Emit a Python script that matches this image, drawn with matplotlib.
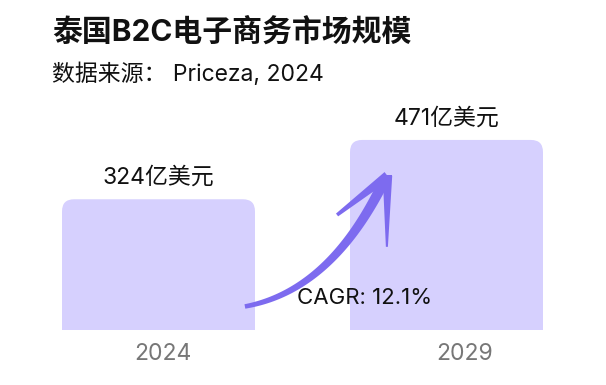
import numpy as np
import matplotlib.pyplot as plt
from matplotlib.patches import FancyBboxPatch

plt.rcParams['font.family'] = ['Inter', 'Noto Sans CJK SC', 'DejaVu Sans']

years = ['2024', '2029']
values = [324, 471]
value_labels = ['324亿美元', '471亿美元']
title = '泰国B2C电子商务市场规模'
subtitle = '数据来源： Priceza, 2024'
cagr_text = 'CAGR: 12.1%'

bar_color = '#D6D0FE'
arrow_color = '#7D6BEF'

fig = plt.figure(figsize=(6.06, 3.85), dpi=100)
ax = fig.add_axes([14.5 / 606, 55 / 385, 576 / 606, 230 / 385])
ax.set_xlim(-0.5, 1.5)
ax.set_ylim(0, 570)

x = np.arange(len(years))
rects = ax.bar(x, values, width=0.67, color=bar_color)

# swap plain bars for ones with rounded top corners
px_x = 288.0          # pixels per x unit
px_y = 230.0 / 570    # pixels per y unit
r = 12 / px_x
for rect in rects:
    rect.set_visible(False)
    bx, bw, bh = rect.get_x(), rect.get_width(), rect.get_height()
    ax.add_patch(FancyBboxPatch((bx, 0), bw, bh,
                                boxstyle=f'round,pad=0,rounding_size={r}',
                                mutation_aspect=px_x / px_y,
                                fc=bar_color, ec='none', zorder=2))
    ax.add_patch(plt.Rectangle((bx, 0), bw, bh / 2, fc=bar_color, ec='none', zorder=2))

for xi, v, lab in zip(x, values, value_labels):
    ax.annotate(lab, (xi, v), xytext=(0, 7.5), textcoords='offset points',
                ha='center', va='bottom', fontsize=16.5, color='#111111')


def tapered(pts, w0, w1):
    # polygon around a polyline, width going from w0 to w1 pixels
    p = pts * [px_x, px_y]
    d = np.gradient(p, axis=0)
    d /= np.hypot(d[:, 0], d[:, 1])[:, None]
    n = np.stack([-d[:, 1], d[:, 0]], axis=1)
    w = np.linspace(w0, w1, len(p))[:, None] / 2
    poly = np.vstack([p + n * w, (p - n * w)[::-1]])
    return poly / [px_x, px_y]


# hand drawn growth arrow
s = np.array([x[0] + 0.30, values[0] * 0.18])
e = np.array([x[1] - 0.215, values[1] * 0.79])
c = np.array([x[0] + 0.60, values[0] * 0.30])
t = np.linspace(0, 1, 80)[:, None]
shaft = (1 - t) ** 2 * s + 2 * (1 - t) * t * c + t ** 2 * e
ax.fill(*tapered(shaft, 4.5, 10.5).T, color=arrow_color, lw=0, zorder=3)
ax.add_patch(plt.Circle(s, 2.2 / px_x, transform=ax.transData, color=arrow_color))

tip = e + [0.01, 10]
for end, w0, w1 in [((tip[0] - 0.175, tip[1] - 97), 9.5, 3.5),
                    ((tip[0] - 0.002, tip[1] - 176), 9.5, 2)]:
    tt = np.linspace(0, 1, 20)[:, None]
    bp = (1 - tt) * tip + tt * np.array(end)
    ax.fill(*tapered(bp, w0, w1).T, color=arrow_color, lw=0, zorder=3)
ax.add_patch(plt.Circle(tip, 4.5 / px_x, transform=ax.transData, color=arrow_color, zorder=3))

ax.text(x[1] - 0.285, values[1] * 0.17, cagr_text, ha='center', va='center',
        fontsize=16, color='#111111', zorder=4)

ax.set_xticks(x + np.array([0.017, 0.064]), years)
ax.tick_params(axis='x', length=0, pad=9, labelsize=16.5, labelcolor='#777777')
ax.set_yticks([])
for sp in ax.spines.values():
    sp.set_visible(False)

fig.text(52 / 606, 1 - 32 / 385, title, fontsize=21.5, fontweight='bold',
         ha='left', va='center', color='#111111')
fig.text(52 / 606, 1 - 74 / 385, subtitle, fontsize=16.5,
         ha='left', va='center', color='#111111')

fig.savefig('out.png', dpi=100)
